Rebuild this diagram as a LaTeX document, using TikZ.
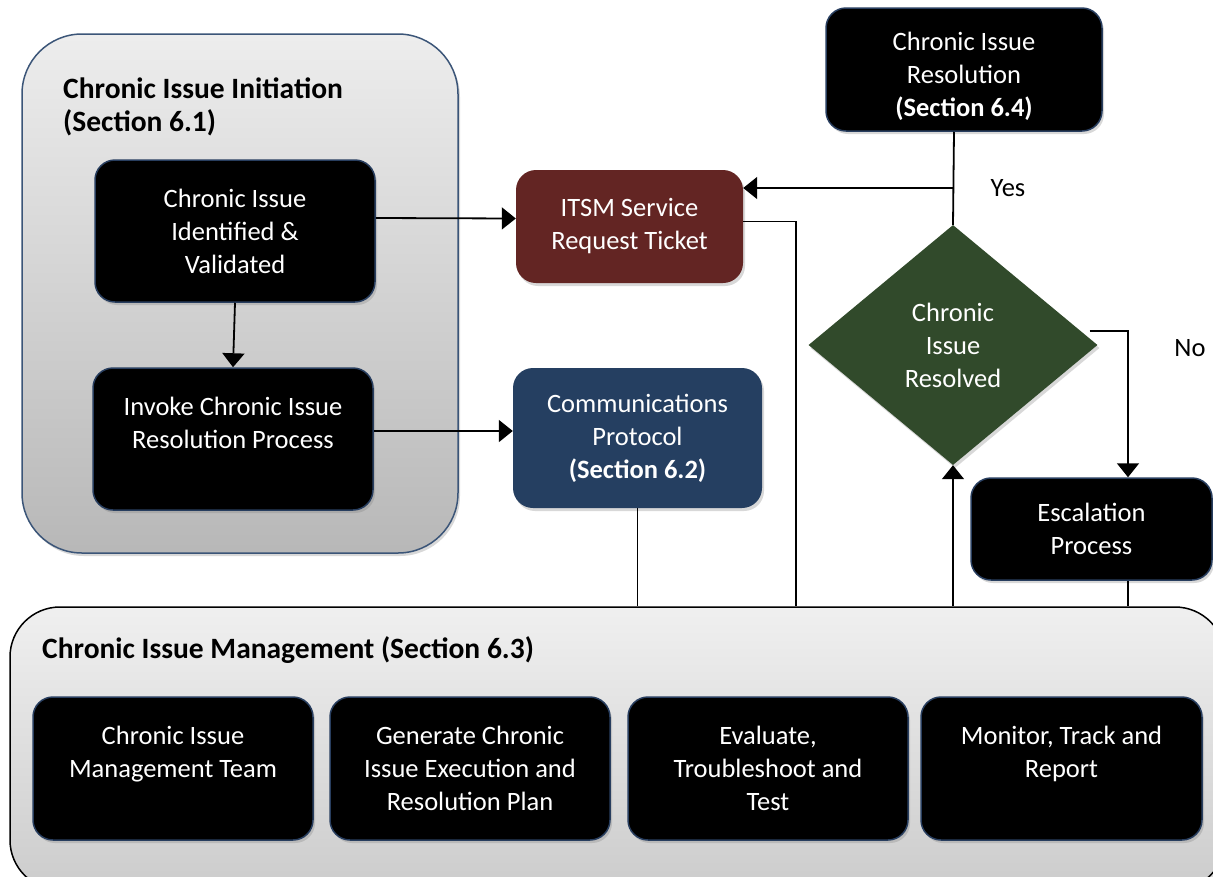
\documentclass[tikz,border=0pt]{standalone}
\usepackage{fontspec}
\setmainfont{Carlito}
\usetikzlibrary{arrows.meta,shadows,shapes.geometric,calc}
\newcommand\mybody{\fontsize{26.5}{33}\selectfont}
\newcommand\mytitle{\fontsize{29.5}{33}\selectfont\bfseries}
\definecolor{boxedge}{RGB}{40,62,95}
\definecolor{groupedge}{RGB}{59,85,120}
\definecolor{itsmred}{RGB}{99,37,35}
\definecolor{commblue}{RGB}{37,63,97}
\definecolor{diagreen}{RGB}{49,74,43}
\begin{document}
\begin{tikzpicture}[x=1pt,y=-1pt,
  every node/.style={font=\mybody},
  shad/.style={drop shadow={opacity=0.3,shadow xshift=2pt,shadow yshift=-3pt}},
  blackbox/.style={draw=boxedge,line width=1.5pt,fill=black,text=white,rounded corners=20pt,
    align=center,inner sep=0pt,shad},
  colbox/.style={draw=none,text=white,rounded corners=20pt,align=center,inner sep=0pt,shad},
  groupbox/.style={rounded corners=#1,inner sep=0pt,shad},
  titletext/.style={font=\mytitle,align=left,inner sep=0pt,anchor=west},
  arr/.style={-{Triangle[width=22pt,length=14pt]},line width=1.8pt},
  ln/.style={line width=1.8pt}]
\clip (0,0) rectangle (1213,876);
\fill[white] (0,0) rectangle (1213,876);

% group: initiation
\node[groupbox=60pt,draw=groupedge,line width=1.5pt,top color=white!93!black,bottom color=white!72!black,
  minimum width=436pt,minimum height=519pt] (init) at (240,293.5) {};
\node[titletext] (inittitle) at (63,107) {Chronic Issue Initiation\\(Section 6.1)};

% group: management
\node[groupbox=50pt,draw=black,line width=1.5pt,top color=white!94!black,bottom color=white!80!black,
  minimum width=1215pt,minimum height=283pt] (mgmt) at (617.5,748.5) {};
\node[titletext] (mgmttitle) at (42,650) {Chronic Issue Management (Section 6.3)};

% boxes
\node[blackbox,minimum width=280pt,minimum height=142pt] (b1) at (235,231) {Chronic Issue\\Identified \&\\Validated};
\node[blackbox,minimum width=280pt,minimum height=142pt] (b2) at (233,439) {Invoke Chronic Issue\\Resolution Process\\\mbox{}};
\node[colbox,fill=itsmred,minimum width=227pt,minimum height=113pt] (itsm) at (629.5,226.5) {ITSM Service\\Request Ticket};
\node[colbox,fill=commblue,minimum width=249pt,minimum height=140pt] (comm) at (637.5,438) {Communications\\Protocol\\\textbf{(Section 6.2)}};
\node[blackbox,minimum width=276pt,minimum height=123pt] (res) at (964,69.5) {\raisebox{-13pt}[0pt][0pt]{\parbox{250pt}{\centering Chronic Issue\\Resolution\\\textbf{(Section 6.4)}}}};
\node[diamond,fill=diagreen,text=white,align=center,inner sep=0pt,aspect=1.2,
  minimum width=289pt,minimum height=240pt,shad] (dia) at (953,345) {Chronic\\Issue\\Resolved};
\node[blackbox,minimum width=241pt,minimum height=102pt] (esc) at (1091.5,529) {Escalation\\Process};

\node[blackbox,minimum width=280pt,minimum height=143pt] (m1) at (173,768.5) {Chronic Issue\\Management Team\\\mbox{}};
\node[blackbox,minimum width=280pt,minimum height=143pt] (m2) at (470,768.5) {Generate Chronic\\Issue Execution and\\Resolution Plan};
\node[blackbox,minimum width=280pt,minimum height=143pt] (m3) at (768,768.5) {Evaluate,\\Troubleshoot and\\Test};
\node[blackbox,minimum width=281pt,minimum height=143pt] (m4) at (1061.5,768.5) {Monitor, Track and\\Report\\\mbox{}};

\node (yes) at (1008,188) {Yes};
\node (no) at (1190,348) {No};

\coordinate (yesj) at (954,188);
\coordinate (nox) at (1128,0);

% connectors
\draw[arr] ([yshift=13pt]b1.east) -- ([yshift=8pt]itsm.west);
\draw[arr] (b1.south) -- (b2.north);
\draw[arr] ([yshift=8pt]b2.east) -- ([yshift=7pt]comm.west);
\draw[ln] (res.south -| yesj) -- (dia.north);
\draw[arr] (yesj) -- (itsm.east |- yesj);
\draw[arr] ([shift={(-8pt,14pt)}]dia.east) -| (nox |- esc.north);
\draw[ln] ([yshift=5pt]itsm.east) -| ([xshift=178.5pt]mgmt.north);
\draw[ln] (comm.south) -- (comm.south |- mgmt.north);
\draw[arr] (dia.south |- mgmt.north) -- (dia.south);
\draw[ln] (nox |- esc.south) -- (nox |- mgmt.north);
\end{tikzpicture}
\end{document}
